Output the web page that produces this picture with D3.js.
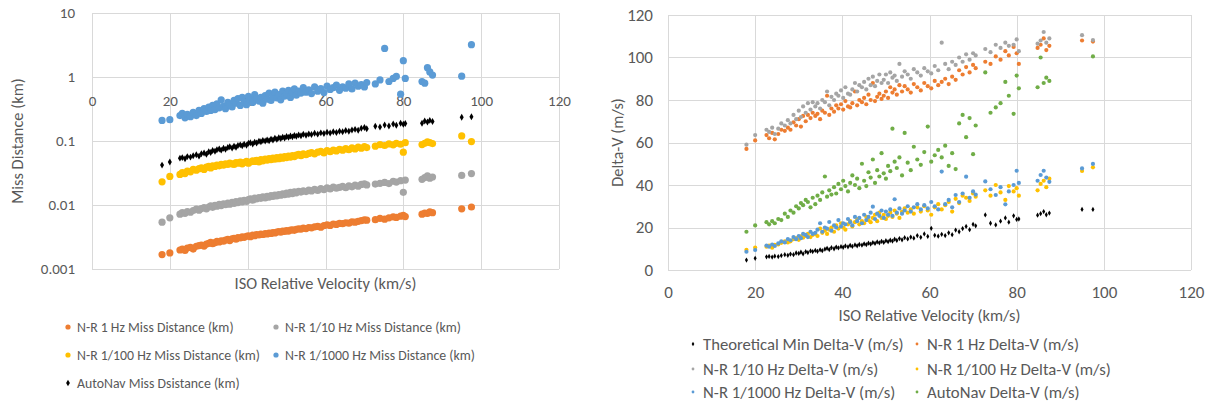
<!DOCTYPE html>
<html lang="en">
<head>
<meta charset="UTF-8">
<title>Miss Distance and Delta-V vs ISO Relative Velocity</title>
<script src="https://d3js.org/d3.v7.min.js"></script>
<style>
  body { margin: 0; background: #fff; }
  svg text { font-family: Carlito, Calibri, Lato, sans-serif; fill: #595959; }
  .grid line { stroke: #d9d9d9; stroke-width: 1; shape-rendering: crispEdges; }
</style>
</head>
<body>
<svg id="chart" width="1210" height="405"></svg>
<script>
// ISO relative velocity (km/s), shared by every series
const velocity = [
  18.0, 20.0, 22.6, 23.2, 23.9, 24.5, 25.3, 26.0, 26.8, 27.5,
  28.1, 28.8, 29.4, 30.0, 30.5, 31.0, 31.6, 32.1, 32.7, 33.2,
  33.8, 34.3, 34.9, 35.4, 36.0, 36.5, 37.0, 37.5, 38.1, 38.6,
  39.1, 39.7, 40.2, 40.7, 41.3, 41.8, 42.3, 42.9, 43.4, 43.9,
  44.5, 45.0, 45.5, 46.0, 46.5, 47.0, 47.5, 48.0, 48.5, 49.0,
  49.5, 50.0, 50.5, 51.0, 51.5, 52.0, 52.5, 53.1, 53.7, 54.3,
  55.0, 55.7, 56.4, 57.2, 58.0, 58.8, 59.6, 60.4, 61.2, 62.0,
  62.8, 63.6, 64.4, 65.2, 66.0, 66.8, 67.6, 68.4, 69.2, 70.0,
  70.6, 72.8, 74.0, 75.2, 76.3, 77.4, 78.2, 79.3, 80.0, 80.5,
  84.8, 85.5, 86.2, 86.8, 87.5, 95.0, 97.5
];

// Miss distance (km)
const missNR1 = [
  0.00168, 0.00178, 0.00198, 0.00204, 0.00195, 0.00212, 0.00218, 0.00205, 0.00226, 0.00232,
  0.00236, 0.00228, 0.00245, 0.00252, 0.00262, 0.00248, 0.00258, 0.0027, 0.00264, 0.00276,
  0.00272, 0.00284, 0.0029, 0.00278, 0.00296, 0.00302, 0.00292, 0.0031, 0.00305, 0.00318,
  0.00312, 0.00325, 0.0033, 0.0032, 0.00338, 0.00332, 0.00345, 0.0034, 0.00352, 0.00346,
  0.00358, 0.00352, 0.00365, 0.0036, 0.00372, 0.00366, 0.00378, 0.00384, 0.00375, 0.00392,
  0.00386, 0.00398, 0.00392, 0.00405, 0.0041, 0.00402, 0.00418, 0.00425, 0.0042, 0.00435,
  0.00428, 0.00445, 0.0044, 0.00456, 0.00462, 0.0045, 0.00475, 0.0049, 0.0048, 0.00505,
  0.00498, 0.00515, 0.0051, 0.00528, 0.0052, 0.00545, 0.0054, 0.00555, 0.0057, 0.00585,
  0.0058, 0.0059, 0.0062, 0.006, 0.0063, 0.0065, 0.0064, 0.0067, 0.0069, 0.0066,
  0.0072, 0.0075, 0.0074, 0.0078, 0.0076, 0.0087, 0.0093
];
const missNR10 = [
  0.0054, 0.0063, 0.0072, 0.0076, 0.0074, 0.0079, 0.0077, 0.0082, 0.0086, 0.0083,
  0.0088, 0.0091, 0.0087, 0.0093, 0.0097, 0.0092, 0.0099, 0.0096, 0.0102, 0.0098,
  0.0104, 0.0101, 0.0107, 0.0103, 0.011, 0.0106, 0.0113, 0.0109, 0.0116, 0.0112,
  0.0118, 0.0114, 0.0121, 0.0125, 0.0119, 0.0128, 0.0124, 0.0131, 0.0127, 0.0134,
  0.0129, 0.0137, 0.0133, 0.014, 0.0136, 0.0143, 0.0139, 0.0146, 0.0142, 0.0149,
  0.0145, 0.0153, 0.0148, 0.0157, 0.0151, 0.0161, 0.0155, 0.0164, 0.0159, 0.0167,
  0.0162, 0.0171, 0.0166, 0.0175, 0.0169, 0.018, 0.0174, 0.0185, 0.0178, 0.019,
  0.0183, 0.0188, 0.0195, 0.0186, 0.0199, 0.0192, 0.0204, 0.0197, 0.021, 0.0214,
  0.0206, 0.0212, 0.0218, 0.0225, 0.0216, 0.0235, 0.0228, 0.024, 0.0158, 0.0245,
  0.0252, 0.0268, 0.0285, 0.0262, 0.0274, 0.029, 0.031
];
const missNR100 = [
  0.023, 0.028, 0.03, 0.032, 0.031, 0.034, 0.033, 0.036, 0.035, 0.037,
  0.038, 0.036, 0.039, 0.04, 0.038, 0.041, 0.04, 0.042, 0.041, 0.043,
  0.042, 0.044, 0.043, 0.045, 0.044, 0.043, 0.046, 0.045, 0.047, 0.044,
  0.046, 0.048, 0.045, 0.047, 0.049, 0.048, 0.05, 0.047, 0.051, 0.049,
  0.052, 0.05, 0.053, 0.051, 0.054, 0.052, 0.055, 0.053, 0.056, 0.054,
  0.057, 0.055, 0.058, 0.056, 0.059, 0.057, 0.06, 0.062, 0.059, 0.063,
  0.061, 0.064, 0.066, 0.063, 0.067, 0.069, 0.065, 0.071, 0.068, 0.072,
  0.07, 0.074, 0.072, 0.076, 0.073, 0.078, 0.075, 0.08, 0.077, 0.082,
  0.079, 0.083, 0.088, 0.085, 0.09, 0.087, 0.092, 0.089, 0.067, 0.094,
  0.088, 0.092, 0.097, 0.094, 0.091, 0.12, 0.098
];
const missNR1000 = [
  0.21, 0.215, 0.25, 0.27, 0.23, 0.26, 0.24, 0.28, 0.25, 0.3,
  0.27, 0.32, 0.29, 0.34, 0.3, 0.36, 0.31, 0.38, 0.33, 0.44,
  0.35, 0.32, 0.4, 0.37, 0.34, 0.43, 0.39, 0.46, 0.36, 0.48,
  0.41, 0.37, 0.5, 0.44, 0.4, 0.53, 0.46, 0.42, 0.48, 0.39,
  0.51, 0.45, 0.56, 0.43, 0.49, 0.58, 0.47, 0.53, 0.44, 0.6,
  0.5, 0.55, 0.62, 0.48, 0.57, 0.65, 0.52, 0.6, 0.56, 0.68,
  0.58, 0.63, 0.55, 0.7, 0.6, 0.66, 0.57, 0.72, 0.64, 0.68,
  0.75, 0.62, 0.7, 0.67, 0.78, 0.65, 0.8, 0.72, 0.76, 0.7,
  0.82, 0.78, 0.9, 2.8, 0.85, 0.95, 1.02, 0.54, 1.8, 0.95,
  0.85, 0.8, 1.4, 1.2, 1.07, 1.03, 3.2
];
const missAutoNav = [
  0.042, 0.047, 0.054, 0.055, 0.053, 0.057, 0.056, 0.059, 0.061, 0.058,
  0.063, 0.065, 0.062, 0.068, 0.066, 0.071, 0.069, 0.073, 0.075, 0.072,
  0.077, 0.074, 0.079, 0.081, 0.078, 0.083, 0.08, 0.085, 0.087, 0.084,
  0.089, 0.086, 0.092, 0.094, 0.09, 0.096, 0.093, 0.099, 0.097, 0.102,
  0.1, 0.104, 0.101, 0.107, 0.104, 0.11, 0.106, 0.112, 0.109, 0.115,
  0.111, 0.118, 0.114, 0.12, 0.116, 0.122, 0.119, 0.124, 0.121, 0.127,
  0.123, 0.129, 0.126, 0.132, 0.128, 0.134, 0.131, 0.137, 0.133, 0.14,
  0.136, 0.142, 0.139, 0.146, 0.142, 0.149, 0.152, 0.147, 0.158, 0.162,
  0.155, 0.17, 0.165, 0.178, 0.172, 0.185, 0.176, 0.19, 0.182, 0.188,
  0.19, 0.205, 0.198, 0.21, 0.202, 0.235, 0.24
];

// Delta-V (m/s)
const dvTheoMin = [
  4.7, 5.5, 6.2, 6.4, 6.1, 6.5, 6.3, 6.8, 7.2, 6.9,
  7.5, 7.2, 8, 7.8, 8.4, 7.6, 8.6, 8.2, 9, 8.7,
  9.2, 8.8, 9.5, 9.1, 9.8, 10.2, 9.6, 10.5, 10, 10.8,
  10.4, 11, 10.7, 11.3, 10.9, 11.6, 11.1, 11.8, 11.4, 12,
  11.7, 12.3, 11.9, 12.6, 12.2, 12.9, 12.5, 13.2, 12.8, 13.5,
  13, 13.8, 13.3, 14, 13.6, 14.5, 13.9, 14.8, 14.2, 15.2,
  14.6, 15.5, 15, 16.2, 15.4, 17, 15.8, 19.6, 16.3, 15.9,
  16.8, 16.2, 17.5, 16.6, 18.8, 18, 19.5, 20.5, 19, 21.5,
  20.8, 25.9, 22, 21.2, 23, 24.5, 22.5, 25.5, 23.8, 24,
  25.8, 26.5, 27.5, 26, 26.8, 28.5, 28.5
];
const dvNR1 = [
  57, 61, 63.5, 62, 64.5, 61.5, 64, 66, 65.5, 67,
  66, 69.5, 68, 71, 67.5, 72.5, 70, 73, 71.5, 74,
  72.5, 73.5, 71, 75, 74, 82, 73, 76, 74.5, 77.5,
  76, 78, 75.5, 79.5, 77, 76.5, 78.5, 84, 77.5, 80,
  79, 81, 78, 82.5, 80, 88, 79.5, 81.5, 83, 80.5,
  82, 84, 81, 86, 83.5, 85, 82.5, 87, 84, 86.5,
  85, 83.5, 87.5, 86, 84.5, 88, 86.5, 85.5, 89, 87,
  88.5, 90, 87.5, 91, 89.5, 94, 92, 95.5, 93, 96.5,
  95, 98, 97, 100.5, 99, 103, 101, 105, 102, 97,
  104.5, 106, 109, 103.5, 105.5, 108, 107.5
];
const dvNR10 = [
  59, 63.5, 66, 65, 67, 64, 66.5, 69, 68, 70.5,
  69, 73, 71, 75, 72, 77, 74, 78.5, 75.5, 79,
  77, 78.5, 76, 80, 79, 84, 77.5, 81.5, 80, 83,
  82, 84.5, 81, 86, 83, 82.5, 85, 88, 84, 87,
  86, 88.5, 85, 90, 87, 91, 86.5, 89, 92, 88,
  89.5, 92, 88, 93, 90.5, 91.5, 89, 97, 91, 93.5,
  92, 90, 94.5, 93, 91.5, 95, 93.5, 92.5, 96, 94,
  107, 97, 94.5, 98, 96.5, 100, 98, 101.5, 99, 102,
  101, 104, 102.5, 106, 104.5, 107, 105.5, 106, 108.5, 103,
  106.5, 108, 112, 107, 109, 110.5, 108.2
];
const dvNR100 = [
  9.5, 10.6, 11, 11.5, 10.5, 11.8, 12, 12.8, 13.5, 13,
  13.5, 14.5, 15, 14.2, 15.8, 15.2, 16, 17, 15.5, 16.5,
  17, 16, 19.5, 17.5, 18.5, 17, 19, 20, 18, 21,
  19.5, 22, 20, 19, 21.5, 23, 20.5, 22.5, 24, 21.5,
  23, 22, 25, 23.5, 22.5, 24.5, 26, 23, 27, 24.5,
  26, 24, 25.5, 27, 25, 28, 26.5, 24.5, 27.5, 29,
  27, 28.5, 26.5, 29.5, 27.5, 30, 28, 26, 29.5, 31,
  28.5, 30.5, 32, 27.5, 33.5, 31.5, 35, 34, 32.5, 36,
  34.5, 37.5, 35, 40, 36.5, 33, 39.5, 37, 38.5, 35,
  37.5, 40.5, 42, 39, 43, 46.6, 48.3
];
const dvNR1000 = [
  8.6, 9.4, 11.5, 11, 12, 11.3, 12.5, 13.5, 13, 14.5,
  14, 15.5, 14.5, 16, 15, 17, 16.5, 15.5, 18, 17,
  17.5, 19, 22, 18, 20, 19.5, 22.6, 18.5, 21, 20,
  23.5, 20.5, 22, 21.5, 24, 22.5, 21, 25, 23, 24.5,
  22, 26, 23.5, 25, 27, 29.8, 24, 26.5, 25.5, 28,
  24.5, 27.5, 26, 28.5, 25.5, 33.3, 27, 29, 26.5, 28,
  30, 27.5, 29.5, 31, 28.5, 30.5, 29, 32, 30, 28.5,
  46.3, 31, 33, 29.5, 35.3, 32, 36, 43.9, 34, 37,
  35.5, 41.7, 38, 35.3, 39, 30.9, 37, 40, 46.7, 41,
  42, 44.7, 46.7, 43.5, 41.5, 47.8, 49.9
];
const dvAutoNav = [
  18, 21, 22.5, 21.5, 23, 22, 24, 23.5, 26.5, 25,
  28, 27, 30, 29, 31.5, 30.5, 33, 32, 29.5, 34,
  31, 35, 33, 36.5, 44, 34.5, 37.5, 35.5, 39, 36,
  40.5, 38, 42, 39.5, 37, 41, 44.5, 40, 43, 38.5,
  50, 42, 39.5, 46, 43.5, 52, 41, 47, 44, 55,
  45.5, 43, 49, 46.5, 66.5, 51, 48, 53, 44.5, 64.5,
  50.5, 47, 58, 52, 49.5, 55.5, 67.5, 51, 54, 56.5,
  53, 58.5, 49, 55, 47.5, 69, 73, 62.5, 71.5, 54.5,
  68, 93, 74, 76.5, 78.5, 88.5, 82, 73.5, 91.5, 85.5,
  86, 100, 88, 90.5, 89, null, 100.5
];

const xTicks = [0, 20, 40, 60, 80, 100, 120];
const missTicks = [0.001, 0.01, 0.1, 1, 10];
const dvTicks = [0, 20, 40, 60, 80, 100, 120];

const missSeries = [
  { name: "N-R 1 Hz Miss Distance (km)", values: missNR1, color: "#ED7D31", shape: "circle" },
  { name: "N-R 1/10 Hz Miss Distance (km)", values: missNR10, color: "#A5A5A5", shape: "circle" },
  { name: "N-R 1/100 Hz Miss Distance (km)", values: missNR100, color: "#FFC000", shape: "circle" },
  { name: "N-R 1/1000 Hz Miss Distance (km)", values: missNR1000, color: "#5B9BD5", shape: "circle" },
  { name: "AutoNav Miss Dsistance (km)", values: missAutoNav, color: "#000000", shape: "diamond" }
];
const dvSeries = [
  { name: "Theoretical Min Delta-V (m/s)", values: dvTheoMin, color: "#000000", shape: "diamond" },
  { name: "N-R 1 Hz Delta-V (m/s)", values: dvNR1, color: "#ED7D31", shape: "circle" },
  { name: "N-R 1/10 Hz Delta-V (m/s)", values: dvNR10, color: "#A5A5A5", shape: "circle" },
  { name: "N-R 1/100 Hz Delta-V (m/s)", values: dvNR100, color: "#FFC000", shape: "circle" },
  { name: "N-R 1/1000 Hz Delta-V (m/s)", values: dvNR1000, color: "#5B9BD5", shape: "circle" },
  { name: "AutoNav Delta-V (m/s)", values: dvAutoNav, color: "#70AD47", shape: "circle" }
];

const svg = d3.select("#chart");

function points(values) {
  return velocity.map((v, i) => ({ x: v, y: values[i] })).filter(d => d.y != null);
}

function drawPanel(cfg) {
  const g = svg.append("g");
  const x = d3.scaleLinear().domain([0, 120]).range([cfg.left, cfg.right]);
  const y = cfg.yScale;

  // gridlines
  const grid = g.append("g").attr("class", "grid");
  grid.selectAll(".h").data(cfg.yTicks).enter().append("line")
    .attr("x1", cfg.left).attr("x2", cfg.right)
    .attr("y1", d => Math.round(y(d)) + 0.5).attr("y2", d => Math.round(y(d)) + 0.5);
  grid.selectAll(".v").data(xTicks).enter().append("line")
    .attr("x1", d => Math.round(x(d)) + 0.5).attr("x2", d => Math.round(x(d)) + 0.5)
    .attr("y1", cfg.top).attr("y2", cfg.bottom);

  // y axis labels
  g.append("g")
    .attr("transform", `translate(${cfg.left},0)`)
    .call(d3.axisLeft(y).tickValues(cfg.yTicks).tickFormat(cfg.yFormat).tickSize(0).tickPadding(cfg.yPad))
    .call(a => a.select(".domain").remove())
    .selectAll("text").style("font-size", cfg.tickFont + "px").attr("fill", "#595959");

  // x axis labels
  g.append("g")
    .attr("transform", `translate(0,${cfg.xAxisY})`)
    .call(d3.axisBottom(x).tickValues(xTicks).tickFormat(d3.format("d")).tickSize(0).tickPadding(cfg.xPad))
    .call(a => a.select(".domain").remove())
    .selectAll("text").style("font-size", cfg.tickFont + "px").attr("fill", "#595959");

  // axis titles
  g.append("text")
    .attr("transform", `translate(${cfg.yTitleX},${(cfg.top + cfg.bottom) / 2}) rotate(-90)`)
    .attr("text-anchor", "middle").attr("dy", "0.35em")
    .style("font-size", cfg.titleFont + "px")
    .text(cfg.yTitle);
  g.append("text")
    .attr("x", (cfg.left + cfg.right) / 2).attr("y", cfg.xTitleY)
    .attr("text-anchor", "middle").attr("dy", "0.35em")
    .style("font-size", cfg.titleFont + "px")
    .text("ISO Relative Velocity (km/s)");

  // markers
  cfg.series.forEach(s => {
    const data = points(s.values);
    if (s.shape === "circle") {
      g.append("g").selectAll("circle").data(data).enter().append("circle")
        .attr("cx", d => x(d.x)).attr("cy", d => y(d.y))
        .attr("r", cfg.dotR).attr("fill", s.color);
    } else {
      const sym = d3.symbol(d3.symbolDiamond, cfg.diamondSize);
      g.append("g").selectAll("path").data(data).enter().append("path")
        .attr("transform", d => `translate(${x(d.x)},${y(d.y)})`)
        .attr("d", sym).attr("fill", s.color);
    }
  });

  // legend
  const lg = g.append("g");
  cfg.series.forEach((s, i) => {
    const col = i % 2, row = Math.floor(i / 2);
    const mx = cfg.legendX[col], my = cfg.legendY[row];
    if (s.shape === "circle") {
      lg.append("circle").attr("cx", mx).attr("cy", my).attr("r", cfg.legendR).attr("fill", s.color);
    } else {
      lg.append("path").attr("transform", `translate(${mx},${my})`)
        .attr("d", d3.symbol(d3.symbolDiamond, cfg.legendDiamond)).attr("fill", s.color);
    }
    lg.append("text").attr("x", mx + cfg.legendGap).attr("y", my).attr("dy", "0.35em")
      .style("font-size", cfg.legendFont + "px").text(s.name);
  });
}

// left: miss distance, log scale
const missY = d3.scaleLog().domain([0.001, 10]).range([269, 13]);
drawPanel({
  left: 92, right: 559, top: 13, bottom: 269,
  yScale: missY, yTicks: missTicks,
  yFormat: d => String(d),
  xAxisY: missY(1), xPad: 18, yPad: 17,
  tickFont: 15, titleFont: 16.4,
  yTitle: "Miss Distance (km)", yTitleX: 17, xTitleY: 283,
  series: missSeries, dotR: 3.6, diamondSize: 14,
  legendX: [68, 276], legendY: [327, 355, 383], legendGap: 9,
  legendR: 2.6, legendDiamond: 12, legendFont: 13.8
});

// right: delta-V, linear scale
const dvY = d3.scaleLinear().domain([0, 120]).range([270, 15]);
drawPanel({
  left: 668, right: 1191, top: 15, bottom: 270,
  yScale: dvY, yTicks: dvTicks,
  yFormat: d3.format("d"),
  xAxisY: 270, xPad: 16, yPad: 15,
  tickFont: 17, titleFont: 16.4,
  yTitle: "Delta-V (m/s)", yTitleX: 617, xTitleY: 315,
  series: dvSeries, dotR: 2.1, diamondSize: 8,
  legendX: [693, 917], legendY: [344, 369, 392], legendGap: 10,
  legendR: 1.4, legendDiamond: 6, legendFont: 16.7
});
</script>
</body>
</html>
